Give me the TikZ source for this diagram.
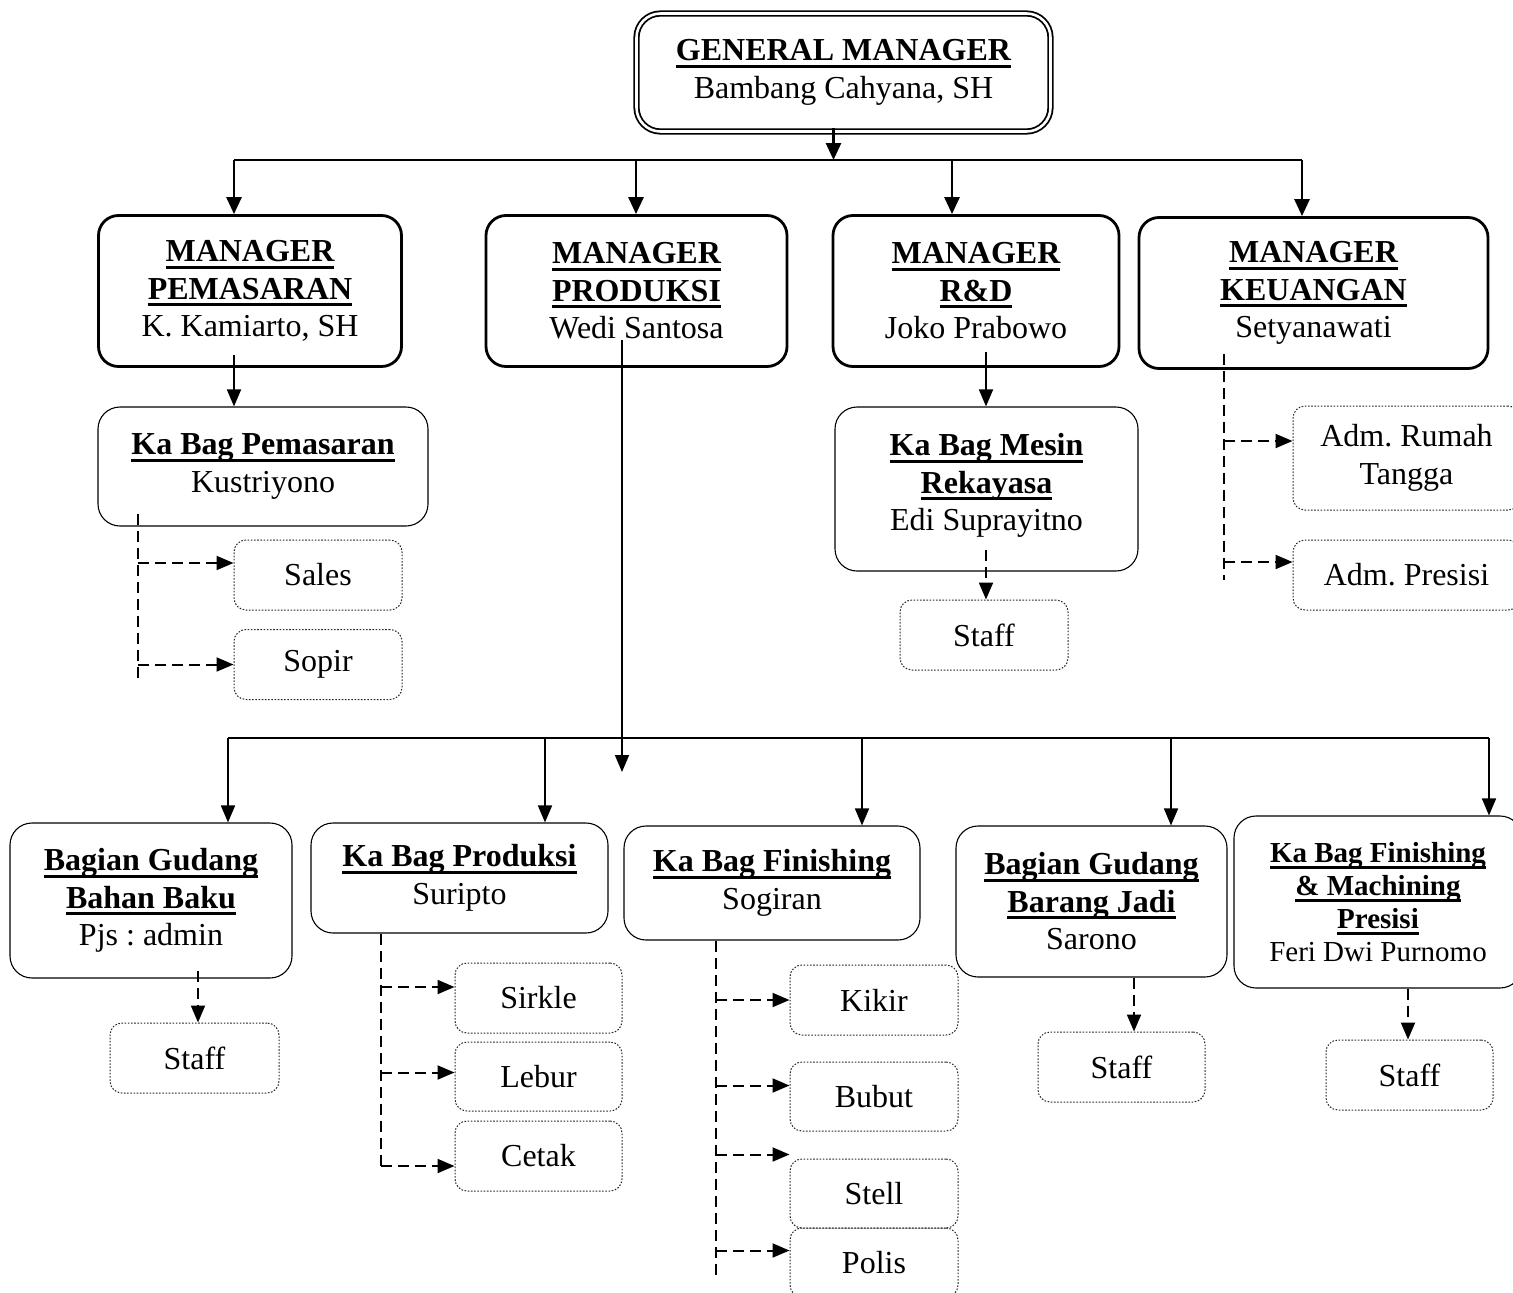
\documentclass[tikz,border=0pt]{standalone}
\usepackage{fontspec}
\setmainfont{Liberation Serif}
\usetikzlibrary{arrows.meta}
\frenchspacing

% bold heading with a heavy underline
\newcommand{\hd}[1]{\textbf{\setbox0\hbox{#1}\rlap{\rule[-7pt]{\wd0}{3pt}}\box0}}
% dashed branch from a spine to a box
\newcommand{\branch}[3]{\draw[dsh,dtip] ([yshift=#3]#2.west -| #1) -- ([yshift=#3]#2.west);}

\tikzset{
  gmbox/.style={draw, double, line width=1.8pt, double distance=2.6pt, rounded corners=24pt, align=center, inner sep=0pt},
  mgr/.style={draw, line width=2.8pt, rounded corners=20pt, align=center, inner sep=0pt},
  kabag/.style={draw, line width=1.1pt, rounded corners=22pt, align=center, inner sep=0pt},
  sub/.style={draw=black!85, dash pattern=on 1.6pt off 1.6pt, line width=1pt, rounded corners=12pt, align=center, inner sep=0pt, minimum width=168pt, minimum height=70pt},
  thk/.style={line width=2.8pt, -{Triangle[length=17pt,width=15pt]}},
  thn/.style={line width=1.7pt, -{Triangle[length=17pt,width=14pt]}},
  dsh/.style={line width=2pt, dash pattern=on 11pt off 6pt},
  dtip/.style={-{Triangle[length=17pt,width=14pt]}},
}

\begin{document}
\begin{tikzpicture}[x=1pt, y=-1pt, font=\fontsize{32}{37.5}\selectfont]
    \useasboundingbox (0,0) rectangle (1513,1293);

    % General manager
    \node[gmbox, minimum width=414pt, minimum height=118pt] (gm) at (843.5,72.5)
        {\hd{GENERAL MANAGER}\\Bambang Cahyana, SH};

    % Managers
    \node[mgr, minimum width=303pt, minimum height=151pt] (mpem) at (250,291)
        {\hd{MANAGER}\\\hd{PEMASARAN}\\K. Kamiarto, SH};
    \node[mgr, minimum width=301pt, minimum height=151pt] (mprod) at (636.5,291)
        {\hd{MANAGER}\\\hd{PRODUKSI}\\Wedi Santosa};
    \node[mgr, minimum width=286pt, minimum height=151pt] (mrd) at (976,291)
        {\hd{MANAGER}\\\hd{R\&D}\\Joko Prabowo};
    \node[mgr, minimum width=349pt, minimum height=151pt] (mkeu) at (1313.5,293)
        {\hd{MANAGER}\\\hd{KEUANGAN}\\Setyanawati};

    \coordinate (bus1) at (234,160);
    \draw[thk, shorten <=-4pt] ([xshift=-10pt]gm.south) -- ([xshift=-10pt]gm.south |- bus1);
    \draw[line width=2.8pt] (bus1) -- (1302,160);
    \foreach \n/\x in {mpem/234, mprod/636, mrd/952, mkeu/1302}
        \draw[thk] (bus1 -| \x,0) -- (\n.north -| \x,0);

    % Pemasaran
    \node[kabag, minimum width=330pt, minimum height=119pt] (kbpem) at (263,466.5)
        {\hd{Ka Bag Pemasaran}\\Kustriyono};
    \node[sub] (sales) at (318,575) {Sales};
    \node[sub] (sopir) at (318,664.5) {Sopir};
    \draw[thn, shorten <=-13pt] (mpem.south -| 234,0) -- (kbpem.north -| 234,0);
    \coordinate (pemsp) at (138,680);
    \draw[dsh, shorten <=-13pt] (kbpem.south -| pemsp) -- (pemsp);
    \branch{pemsp}{sales}{12pt}
    \branch{pemsp}{sopir}{0pt}

    % R&D
    \node[kabag, minimum width=303pt, minimum height=164pt] (kbmesin) at (986.5,489)
        {\hd{Ka Bag Mesin}\\\hd{Rekayasa}\\Edi Suprayitno\\[-24pt]};
    \node[sub] (staffrd) at (984,635) {Staff};
    \draw[thn, shorten <=-16pt] (mrd.south -| 986,0) -- (kbmesin.north -| 986,0);
    \draw[dsh, dtip, shorten <=-22pt] (kbmesin.south -| 986,0) -- (staffrd.north -| 986,0);

    % Keuangan
    \node[sub, minimum width=227pt, minimum height=104pt] (admrt) at (1406.5,458) {Adm. Rumah\\Tangga};
    \node[sub, minimum width=227pt] (admpre) at (1406.5,575) {Adm. Presisi};
    \coordinate (keusp) at (1224,580);
    \draw[dsh, shorten <=-16pt] (mkeu.south -| keusp) -- (keusp);
    \branch{keusp}{admrt}{17pt}
    \branch{keusp}{admpre}{13pt}

    % Produksi
    \coordinate (prodend) at (622,772);
    \draw[thn, shorten <=-28pt] (mprod.south -| prodend) -- (prodend);
    \coordinate (bus2) at (228,738);
    \draw[line width=1.8pt] (bus2) -- (1489,738);

    \node[kabag, minimum width=282pt, minimum height=155pt] (gbb) at (151,900.5)
        {\hd{Bagian Gudang}\\\hd{Bahan Baku}\\Pjs : admin};
    \node[kabag, minimum width=297pt, minimum height=110pt] (kbprod) at (459.5,878)
        {\hd{Ka Bag Produksi}\\Suripto};
    \node[kabag, minimum width=296pt, minimum height=114pt] (kbfin) at (772,883)
        {\hd{Ka Bag Finishing}\\Sogiran};
    \node[kabag, minimum width=271pt, minimum height=151pt] (gbj) at (1091.5,901.5)
        {\hd{Bagian Gudang}\\\hd{Barang Jadi}\\Sarono};
    \node[kabag, minimum width=288pt, minimum height=172pt, font=\fontsize{29}{33}\selectfont] (kbfm) at (1378,902)
        {\hd{Ka Bag Finishing}\\\hd{\& Machining}\\\hd{Presisi}\\Feri Dwi Purnomo};
    \foreach \n/\x in {gbb/228, kbprod/545, kbfin/862, gbj/1171, kbfm/1489}
        \draw[thn] (bus2 -| \x,0) -- (\n.north -| \x,0);

    % Staff
    \node[sub, minimum width=169pt] (staffgbb) at (194.5,1058) {Staff};
    \node[sub, minimum width=167pt] (staffgbj) at (1121.5,1067) {Staff};
    \node[sub, minimum width=167pt] (stafffm) at (1409.5,1075) {Staff};
    \draw[dsh, dtip, shorten <=-8pt] (gbb.south -| 198,0) -- (staffgbb.north -| 198,0);
    \draw[dsh, dtip] (gbj.south -| 1134,0) -- (staffgbj.north -| 1134,0);
    \draw[dsh, dtip] (kbfm.south -| 1408,0) -- (stafffm.north -| 1408,0);

    % Produksi units
    \node[sub, minimum width=167pt] (sirkle) at (538.5,998) {Sirkle};
    \node[sub, minimum width=167pt, minimum height=69pt] (lebur) at (538.5,1076.5) {Lebur};
    \node[sub, minimum width=167pt] (cetak) at (538.5,1156) {Cetak};
    \coordinate (prodsp) at (381,1168);
    \draw[dsh] (kbprod.south -| prodsp) -- (prodsp);
    \branch{prodsp}{sirkle}{11pt}
    \branch{prodsp}{lebur}{4pt}
    \branch{prodsp}{cetak}{-10pt}

    % Finishing units
    \node[sub] (kikir) at (874,1000) {Kikir};
    \node[sub, minimum height=69pt] (bubut) at (874,1096.5) {Bubut};
    \node[sub, minimum height=69pt] (stell) at (874,1193.5) {Stell};
    \node[sub, minimum height=69pt] (polis) at (874,1262.5) {Polis};
    \coordinate (finsp) at (716,1280);
    \draw[dsh] (kbfin.south -| finsp) -- (finsp);
    \branch{finsp}{kikir}{0pt}
    \branch{finsp}{bubut}{11pt}
    \draw[dsh, dtip] ([yshift=4pt]stell.north west -| finsp) -- ([yshift=4pt]stell.north west);
    \branch{finsp}{polis}{12pt}
\end{tikzpicture}
\end{document}
